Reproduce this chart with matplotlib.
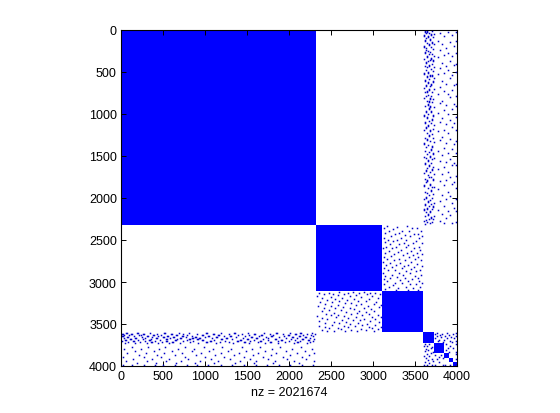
import matplotlib
matplotlib.use('Agg')
import matplotlib.pyplot as plt

plt.rcParams['font.family'] = ['Liberation Sans', 'DejaVu Sans']

# diagonal blocks of the matrix, edges in row/column numbers
block_edges = [0, 2320, 3105, 3595, 3725, 3850, 3900, 3950, 4000]

# sparse points read off the upper triangle (the matrix is symmetric)
# right hand band: each column number goes with the rows seen in that column
band_a_by_col = [
    (3612, [62, 71, 188, 203, 345, 512, 524, 690, 812, 1015, 1027, 1190, 1340, 1352, 1516, 1702, 1845, 1857, 2010, 2136, 2148, 2277]),
    (3624, [14, 26, 118, 131, 262, 274, 431, 590, 602, 744, 905, 1101, 1113, 1280, 1435, 1588, 1600, 1768, 1925, 2070, 2082, 2210, 2305]),
    (3636, [38, 96, 220, 233, 380, 392, 475, 655, 667, 790, 960, 972, 1160, 1172, 1395, 1520, 1670, 1682, 1810, 1985, 1997, 2165, 2262]),
    (3648, [9, 21, 150, 305, 317, 445, 550, 562, 725, 737, 850, 1040, 1052, 1225, 1300, 1312, 1480, 1640, 1790, 1802, 1940, 2115, 2127, 2290]),
    (3660, [70, 82, 245, 370, 498, 510, 618, 630, 775, 880, 892, 1000, 1135, 1147, 1365, 1545, 1557, 1725, 1880, 2040, 2052, 2190, 2202]),
    (3672, [30, 172, 184, 290, 415, 427, 585, 700, 712, 845, 857, 930, 942, 1080, 1250, 1262, 1450, 1610, 1622, 1755, 1960, 2095, 2250]),
    (3684, [108, 120, 258, 352, 540, 552, 668, 810, 822, 900, 912, 1195, 1207, 1320, 1500, 1512, 1695, 1830, 1842, 2025, 2160, 2172, 2300]),
    (3696, [48, 60, 200, 330, 342, 465, 640, 652, 780, 970, 982, 1110, 1415, 1427, 1580, 1745, 1900, 1912, 2075, 2225, 2237]),
    (3708, [16, 140, 152, 280, 405, 530, 542, 735, 860, 1065, 1077, 1240, 1375, 1387, 1540, 1660, 1672, 1870, 2005, 2130, 2280]),
    (3720, [85, 225, 360, 372, 490, 610, 622, 825, 1010, 1022, 1175, 1290, 1470, 1482, 1625, 1775, 1787, 1950, 2100, 2112, 2255]),
    (3732, [44, 168, 312, 440, 570, 700, 920, 1125, 1330, 1525, 1715, 1865, 2060, 2215]),
    (3768, [125, 320, 520, 765, 990, 1205, 1440, 1650, 1895, 2145]),
    (3792, [35, 240, 455, 680, 870, 1090, 1310, 1560, 1800, 2030, 2275]),
    (3816, [165, 395, 605, 840, 1045, 1275, 1490, 1720, 1960, 2185]),
    (3840, [75, 295, 515, 725, 955, 1185, 1400, 1630, 1850, 2090, 2300]),
    (3864, [210, 430, 640, 890, 1120, 1345, 1575, 1780, 2015, 2240]),
    (3888, [20, 270, 480, 760, 1000, 1230, 1460, 1690, 1925, 2155]),
    (3912, [140, 365, 575, 800, 1070, 1295, 1535, 1745, 1975, 2205]),
    (3936, [55, 310, 535, 715, 935, 1155, 1420, 1605, 1835, 2065, 2295]),
    (3960, [190, 420, 660, 885, 1105, 1360, 1585, 1815, 2120]),
    (3985, [28, 130, 275, 410, 500, 640, 780, 905, 1035, 1190, 1325, 1465, 1610, 1740, 1880, 2010, 2155, 2290]),
]

# middle band (rows 2320-3105, columns 3105-3595)
band_b = [
    (2333, [3164, 3402]), (2341, [3291]), (2361, [3133, 3466, 3518]), (2372, [3237]), (2388, [3348, 3192, 3571]),
    (2394, [3425]), (2413, [3146, 3315]), (2429, [3262, 3493, 3537]), (2440, [3381]), (2456, [3212, 3444, 3586]),
    (2472, [3126, 3337]), (2482, [3553]), (2496, [3178, 3398, 3283]), (2515, [3509, 3243]), (2521, [3138]),
    (2538, [3477, 3366, 3578]), (2549, [3304, 3204]), (2561, [3418]), (2580, [3544, 3272, 3153]), (2588, [3390]),
    (2599, [3228, 3488, 3122]), (2617, [3331, 3562]), (2628, [3186, 3454]), (2639, [3297]), (2653, [3141, 3407, 3525]),
    (2670, [3253, 3583]), (2679, [3357, 3472]), (2691, [3216]), (2704, [3433, 3541, 3129]), (2724, [3309, 3172]),
    (2729, [3503]), (2743, [3245, 3569, 3386]), (2757, [3119, 3448]), (2773, [3322, 3198]), (2782, [3527]),
    (2794, [3411, 3157, 3278]), (2809, [3369, 3589]), (2821, [3231, 3484]), (2839, [3135, 3342]), (2848, [3458]),
    (2859, [3267, 3182, 3556]), (2873, [3396, 3513]), (2892, [3124, 3305]), (2898, [3439]), (2912, [3222, 3359, 3574]),
    (2926, [3496, 3148]), (2937, [3286]), (2951, [3377, 3205, 3532]), (2968, [3465, 3131]), (2977, [3319]),
    (2990, [3169, 3422, 3548]), (3007, [3258, 3581]), (3016, [3351]), (3029, [3128, 3443, 3507]), (3041, [3235]),
    (3055, [3393, 3189, 3565]), (3073, [3299, 3478]), (3082, [3143]), (3094, [3414, 3270, 3536]),
]

# corner band next to the small blocks
band_c = [
    (3608, [3762, 3884, 3986]), (3621, [3741, 3823, 3951]), (3633, [3796, 3904]), (3648, [3757, 3861, 3990]),
    (3659, [3812, 3927]), (3671, [3734, 3877, 3968]), (3686, [3788, 3846]), (3698, [3768, 3911, 3984]),
    (3712, [3829, 3939]), (3738, [3871, 3993]), (3761, [3922]), (3784, [3889, 3956]), (3806, [3867]),
    (3829, [3908, 3987]), (3862, [3988]), (3918, [3991]), (3972, [3986]),
]

nz_label = 'nz = 2021674'
tick_values = [0, 500, 1000, 1500, 2000, 2500, 3000, 3500, 4000]


def expand(band):
    """one pair per dot of a band"""
    out_a, out_b = [], []
    for key, others in band:
        for other in others:
            out_a.append(key)
            out_b.append(other)
    return out_a, out_b


fig = plt.figure(figsize=(5.6, 4.14), dpi=100)
ax = fig.add_axes([121 / 560, 1 - 367 / 414, 336 / 560, 336 / 414])

for start, end in zip(block_edges[:-1], block_edges[1:]):
    ax.broken_barh([(start, end - start)], (start, end - start), color='#0000ff', linewidth=0)

cols_a, rows_a = expand(band_a_by_col)
rows_b, cols_b = expand(band_b)
rows_c, cols_c = expand(band_c)

for r, c in [(rows_a, cols_a), (rows_b, cols_b), (rows_c, cols_c)]:
    # both triangles
    ax.plot(c, r, linestyle='none', marker='s', markersize=1.1, markeredgewidth=0, color='#0000c8')
    ax.plot(r, c, linestyle='none', marker='s', markersize=1.1, markeredgewidth=0, color='#0000c8')

ax.set_xlim(0, 4000)
ax.set_ylim(4000, 0)
ax.set_xticks(tick_values)
ax.set_yticks(tick_values)
ax.tick_params(direction='in', length=3.5, width=0.7, top=True, right=True, labelsize=9, pad=3, colors='black')
for s in ax.spines.values():
    s.set_linewidth(0.8)
ax.set_xlabel(nz_label, fontsize=9, labelpad=3)

fig.savefig('out.png', dpi=100)
plt.close(fig)
